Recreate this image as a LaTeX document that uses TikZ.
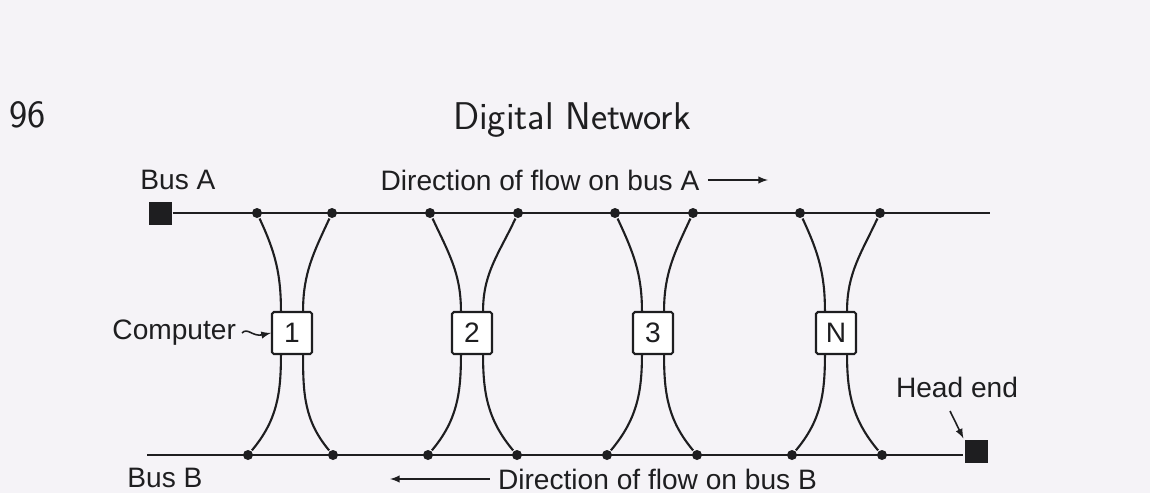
\documentclass[tikz,border=0pt]{standalone}
\usepackage{fontspec}
\setmainfont{Liberation Sans}
\usepackage{tikz}
\usetikzlibrary{arrows,shapes}
\definecolor{paper}{RGB}{245,243,247}
\definecolor{ink}{RGB}{30,30,32}
\tikzstyle{station} = [rectangle, draw, line width=1.2pt, fill=white,
                     minimum width=0.8cm, minimum height=0.84cm, inner sep=0pt,
                     rounded corners=1pt, font=\fontsize{16}{18}\selectfont]
\tikzstyle{endbox} = [rectangle, fill=ink, minimum size=0.46cm, inner sep=0pt]
\tikzstyle{tap} = [circle, fill=ink, minimum size=0.2cm, inner sep=0pt]

\begin{document}
\begin{tikzpicture}[line width=1.2pt, draw=ink, text=ink,
txt/.style={font=\fontsize{16}{18}\selectfont, inner sep=0pt},
head/.style={font=\sffamily\fontsize{22}{24}\selectfont, inner sep=0pt}]
\fill[paper] (0,0) rectangle (23,9.86);
% page heading
\node[head, anchor=west] at (0.16,7.56) (page) {96};
\node[head] at (11.44,7.46) (title) {Digital Network};

% Bus A
\node[endbox] at (3.2,5.6) (headA) {};
\coordinate (endA) at (19.8,5.6);
\draw (headA) -- (endA);
\node[txt] at (3.56,6.26) (busA) {Bus A};
\node[txt] at (10.8,6.26) (flowA) {Direction of flow on bus A};
\coordinate (tipA) at (15.36,6.22);
\draw[-latex, line width=0.9pt] ([xshift=1.5mm]flowA.east) -- (tipA |- flowA.east);

% Bus B
\coordinate (endB) at (2.94,0.76);
\node[endbox] at (19.52,0.84) (headB) {};
\draw (endB) -- (endB -| headB.west);
\node[txt] at (3.3,0.3) (busB) {Bus B};
\node[txt, anchor=west] at (9.94,0.28) (flowB) {Direction of flow on bus B};
\coordinate (tipB) at (7.8,0.3);
\draw[-latex, line width=0.9pt] ([xshift=-1.5mm]flowB.west) -- (tipB |- flowB.west);
\node[txt] at (19.14,2.12) (headlbl) {Head end};
\coordinate (hs) at (19.0,1.64);
\draw[-latex, line width=0.9pt] (hs) -- (headB.north west);

% taps on bus A
\node[tap] at (5.14,5.6) (a1l) {};
\node[tap] at (6.64,5.6) (a1r) {};
\node[tap] at (8.6,5.6) (a2l) {};
\node[tap] at (10.36,5.6) (a2r) {};
\node[tap] at (12.3,5.6) (a3l) {};
\node[tap] at (13.86,5.6) (a3r) {};
\node[tap] at (16.0,5.6) (aNl) {};
\node[tap] at (17.6,5.6) (aNr) {};
% taps on bus B
\node[tap] at (4.96,0.76) (b1l) {};
\node[tap] at (6.66,0.76) (b1r) {};
\node[tap] at (8.56,0.76) (b2l) {};
\node[tap] at (10.34,0.76) (b2r) {};
\node[tap] at (12.14,0.76) (b3l) {};
\node[tap] at (13.94,0.76) (b3r) {};
\node[tap] at (15.84,0.76) (bNl) {};
\node[tap] at (17.64,0.76) (bNr) {};

% Computers
\node[station] at (5.84,3.2) (pc1) {1};
\node[station] at (9.44,3.2) (pc2) {2};
\node[station] at (13.06,3.2) (pc3) {3};
\node[station] at (16.72,3.2) (pcN) {N};
\node[txt, anchor=east] at (4.74,3.2) (comp) {Computer};
\draw[-latex, line width=0.9pt] ([xshift=1mm]comp.east) .. controls (4.95,3.32) and (5.05,3.12) .. (pc1.west);

% drop lines
\draw (a1l) to[out=-65,in=90] ([xshift=2mm]pc1.north west);
\draw (a1r) to[out=-115,in=90] ([xshift=-2mm]pc1.north east);
\draw ([xshift=2mm]pc1.south west) to[out=-90,in=50] (b1l);
\draw ([xshift=-2mm]pc1.south east) to[out=-90,in=130] (b1r);
\draw (a2l) to[out=-65,in=90] ([xshift=2mm]pc2.north west);
\draw (a2r) to[out=-115,in=90] ([xshift=-2mm]pc2.north east);
\draw ([xshift=2mm]pc2.south west) to[out=-90,in=50] (b2l);
\draw ([xshift=-2mm]pc2.south east) to[out=-90,in=130] (b2r);
\draw (a3l) to[out=-65,in=90] ([xshift=2mm]pc3.north west);
\draw (a3r) to[out=-115,in=90] ([xshift=-2mm]pc3.north east);
\draw ([xshift=2mm]pc3.south west) to[out=-90,in=50] (b3l);
\draw ([xshift=-2mm]pc3.south east) to[out=-90,in=130] (b3r);
\draw (aNl) to[out=-65,in=90] ([xshift=2mm]pcN.north west);
\draw (aNr) to[out=-115,in=90] ([xshift=-2mm]pcN.north east);
\draw ([xshift=2mm]pcN.south west) to[out=-90,in=50] (bNl);
\draw ([xshift=-2mm]pcN.south east) to[out=-90,in=130] (bNr);
\end{tikzpicture}
\end{document}
